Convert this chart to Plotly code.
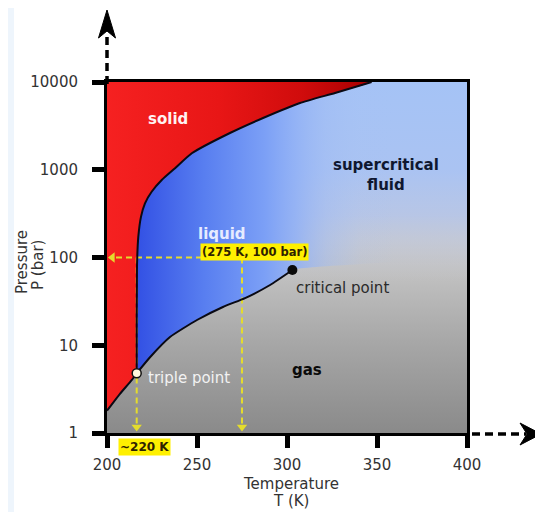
import plotly.graph_objects as go

# ---------------- data ----------------
T_RANGE = [200, 400]
P_RANGE = [1, 10000]
x_ticks = [200, 250, 300, 350, 400]
y_ticks = [1, 10, 100, 1000, 10000]
y_tick_labels = ["1", "10", "100", "1000", "10000"]

triple_T, triple_P = 216.5, 4.8
critical_T, critical_P = 303.0, 72.0

# solid-gas boundary (sublimation)
sub_T = [200.0, 207.2, 213.7, 216.5]
sub_P = [1.8, 2.8, 4.0, 4.8]

# solid-liquid boundary (melting)
melt_T = [216.5, 216.5, 216.6, 216.7, 217.4, 218.9, 221.1, 224.8, 230.4, 237.8,
          247.1, 268.3, 286.7, 307.2, 326.7, 347.0]
melt_P = [4.8, 19.4, 42.7, 86, 173, 292, 415, 562, 764, 1040,
          1540, 2624, 3890, 5770, 7500, 10000]

# liquid-gas boundary (vaporisation)
vap_T = [216.5, 223.9, 235.0, 250.0, 264.4, 276.7, 290.6, 303.0]
vap_P = [4.8, 7.3, 12.4, 19.4, 27.3, 34.5, 48.6, 72.0]

# example reading
read_T, read_P = 275, 100
guide_T = 216.5
arrow_P = 1.17
arrow_T_left = 203

# ---------------- layout helpers ----------------
# the page has an 8px body margin; the figure is sized so the plot area
# lands at page pixels x 107..467, y 82..433
OFF = 8
W, H = 543 - OFF, 512 - OFF
ML, MT = 107 - OFF, 82 - OFF
PW, PH = 360, 351
MR, MB = W - ML - PW, H - MT - PH


def pxp(x):  # page x pixel -> paper
    return (x - 107) / PW


def pyp(y):  # page y pixel -> paper
    return (433 - y) / PH


FONT = "DejaVu Sans"
fig = go.Figure()

rect_T = [T_RANGE[0], T_RANGE[1], T_RANGE[1], T_RANGE[0], T_RANGE[0]]
rect_P = [P_RANGE[0], P_RANGE[0], P_RANGE[1], P_RANGE[1], P_RANGE[0]]

# gray base (gas)
fig.add_trace(go.Scatter(
    x=rect_T, y=rect_P, mode="lines", line=dict(width=0), fill="toself",
    fillgradient=dict(type="vertical", colorscale=[
        [0, "#8a8a8a"], [0.25, "#a6a6a6"], [0.45, "#c0c0c0"],
        [0.55, "#cbcbcb"], [1, "#d6d6d6"]]),
    hoverinfo="skip", showlegend=False))

# supercritical light blue (fades to gray downward)
fig.add_trace(go.Scatter(
    x=rect_T, y=rect_P, mode="lines", line=dict(width=0), fill="toself",
    fillgradient=dict(type="vertical", colorscale=[
        [0, "rgba(200,200,205,0)"], [0.43, "rgba(200,200,208,0)"],
        [0.52, "rgba(190,198,222,0.4)"], [0.62, "rgba(178,196,236,0.8)"],
        [0.75, "rgba(170,195,242,1)"], [1, "rgba(165,195,246,1)"]]),
    hoverinfo="skip", showlegend=False))

# liquid region (saturated blue fading right)
liq_T = melt_T + [T_RANGE[1], T_RANGE[1]] + vap_T[::-1]
liq_P = melt_P + [P_RANGE[1], 130] + vap_P[::-1]
fig.add_trace(go.Scatter(
    x=liq_T, y=liq_P, mode="lines", line=dict(width=0, shape="spline", smoothing=0.5),
    fill="toself",
    fillgradient=dict(type="horizontal", colorscale=[
        [0, "rgba(50,80,228,1)"], [0.2, "rgba(88,126,240,1)"],
        [0.38, "rgba(124,160,246,1)"], [0.47, "rgba(144,176,246,0.85)"],
        [0.56, "rgba(158,186,244,0.45)"], [0.66, "rgba(165,192,244,0.1)"],
        [0.76, "rgba(165,192,244,0)"], [1, "rgba(165,192,244,0)"]]),
    hoverinfo="skip", showlegend=False))

# solid region
sol_T = [T_RANGE[0]] + sub_T + melt_T[1:] + [T_RANGE[0]]
sol_P = [P_RANGE[1]] + sub_P + melt_P[1:] + [P_RANGE[1]]
fig.add_trace(go.Scatter(
    x=sol_T, y=sol_P, mode="lines", line=dict(width=0, shape="spline", smoothing=0.5),
    fill="toself",
    fillgradient=dict(type="horizontal", colorscale=[
        [0, "#f72222"], [0.45, "#e81616"], [0.75, "#d00c0c"], [1, "#a80000"]]),
    hoverinfo="skip", showlegend=False))

# yellow guide lines
YEL = "#e4dc2c"
guide_line = dict(color=YEL, width=2, dash="6px,4px")
fig.add_trace(go.Scatter(x=[read_T, arrow_T_left + 1], y=[read_P, read_P], mode="lines",
                         line=guide_line, hoverinfo="skip", showlegend=False))
fig.add_trace(go.Scatter(x=[read_T, read_T], y=[read_P, arrow_P], mode="lines",
                         line=guide_line, hoverinfo="skip", showlegend=False))
fig.add_trace(go.Scatter(x=[guide_T, guide_T], y=[read_P, arrow_P], mode="lines",
                         line=guide_line, hoverinfo="skip", showlegend=False))

# phase boundaries
for tx, ty in [(sub_T, sub_P), (melt_T, melt_P), (vap_T, vap_P)]:
    fig.add_trace(go.Scatter(x=tx, y=ty, mode="lines",
                             line=dict(color="#0a0a14", width=2, shape="spline", smoothing=0.5),
                             hoverinfo="skip", showlegend=False))

# arrow heads of guides
fig.add_trace(go.Scatter(x=[guide_T, read_T], y=[arrow_P, arrow_P], mode="markers",
                         marker=dict(symbol="triangle-down", size=9, color=YEL),
                         hoverinfo="skip", showlegend=False))
fig.add_trace(go.Scatter(x=[arrow_T_left], y=[read_P], mode="markers",
                         marker=dict(symbol="triangle-left", size=9, color=YEL),
                         hoverinfo="skip", showlegend=False))

# triple & critical points
fig.add_trace(go.Scatter(x=[triple_T], y=[triple_P], mode="markers",
                         marker=dict(size=9, color="#fff6dc", line=dict(color="#111", width=1.5)),
                         hoverinfo="skip", showlegend=False))
fig.add_trace(go.Scatter(x=[critical_T], y=[critical_P], mode="markers",
                         marker=dict(size=10, color="#0a0a0a"),
                         hoverinfo="skip", showlegend=False))

# ---------------- labels ----------------
def lab(text, x, y, color, size=15, **kw):
    fig.add_annotation(x=x, y=y, text=text, showarrow=False,
                       font=dict(family=FONT, size=size, color=color), **kw)


lab("<b>solid</b>", 233.9, 3.578, "#fff2f2")
lab("<b>liquid</b>", 263.9, 2.268, "#e6ebff")
lab("<b>supercritical<br>fluid</b>", 355, 2.94, "#101830")
lab("<b>gas</b>", 311, 0.718, "#0a0a0a")
lab("critical point", 330.6, 1.652, "#2a2a2a")
lab("triple point", 245.6, 0.627, "#f2f2f2")
lab(f"<b>({read_T} K, {read_P} bar)</b>", 282.2, 2.063, "#2e2200", size=11.5,
    bgcolor="#fff000", borderpad=1)
lab("<b>~220 K</b>", 220.6, pyp(447), "#2e2200", size=12, yref="paper",
    yanchor="middle", bgcolor="#fff000", borderpad=1)

# axis titles (one annotation per line, tight line spacing as in the reference)
lab("Pressure", pxp(22), pyp(262), "#333", xref="paper", yref="paper",
    xanchor="center", yanchor="middle", textangle=-90)
lab("P (bar)", pxp(38), pyp(265), "#333", xref="paper", yref="paper",
    xanchor="center", yanchor="middle", textangle=-90)
lab("Temperature", pxp(291), pyp(484), "#333", xref="paper", yref="paper",
    xanchor="center", yanchor="middle")
lab("T (K)", pxp(291), pyp(501), "#333", xref="paper", yref="paper",
    xanchor="center", yanchor="middle")

# ---------------- decorations ----------------
shapes = [
    # light page strip at left
    dict(type="rect", xref="paper", yref="paper", x0=pxp(OFF), x1=pxp(14), y0=pyp(512),
         y1=pyp(OFF), fillcolor="#eef5fc", line=dict(width=0), layer="below"),
    # dashed axis extensions
    dict(type="line", xref="paper", yref="paper", x0=pxp(107), x1=pxp(107), y0=pyp(84), y1=pyp(32),
         line=dict(color="black", width=3.5, dash="8px,5px")),
    dict(type="line", xref="paper", yref="paper", x0=pxp(472), x1=pxp(526), y0=pyp(434), y1=pyp(434),
         line=dict(color="black", width=3.5, dash="8px,5px")),
    # arrow heads
    dict(type="path", xref="paper", yref="paper",
         path=f"M {pxp(107)} {pyp(10)} L {pxp(98.5)} {pyp(38)} L {pxp(107)} {pyp(31)} "
              f"L {pxp(115.5)} {pyp(38)} Z",
         fillcolor="black", line=dict(color="black", width=1)),
    dict(type="path", xref="paper", yref="paper",
         path=f"M {pxp(541)} {pyp(434)} L {pxp(520)} {pyp(423)} L {pxp(527)} {pyp(434)} "
              f"L {pxp(520)} {pyp(445)} Z",
         fillcolor="black", line=dict(color="black", width=1)),
]

fig.update_layout(
    width=W, height=H,
    margin=dict(l=ML, r=MR, t=MT, b=MB, autoexpand=False),
    paper_bgcolor="white", plot_bgcolor="white",
    showlegend=False, shapes=shapes,
    xaxis=dict(range=T_RANGE, tickvals=x_ticks, showgrid=False, zeroline=False,
               showline=True, linecolor="black", linewidth=3, mirror=True,
               ticks="outside", ticklen=12, tickwidth=5, tickcolor="black",
               ticklabelstandoff=4,
               tickfont=dict(family=FONT, size=15, color="#333")),
    yaxis=dict(type="log", range=[0, 4], tickvals=y_ticks, ticktext=y_tick_labels,
               showgrid=False, zeroline=False,
               showline=True, linecolor="black", linewidth=3, mirror=True,
               ticks="outside", ticklen=12, tickwidth=5, tickcolor="black",
               ticklabelstandoff=11,
               tickfont=dict(family=FONT, size=15, color="#333")),
)

fig.write_html("out.html")
